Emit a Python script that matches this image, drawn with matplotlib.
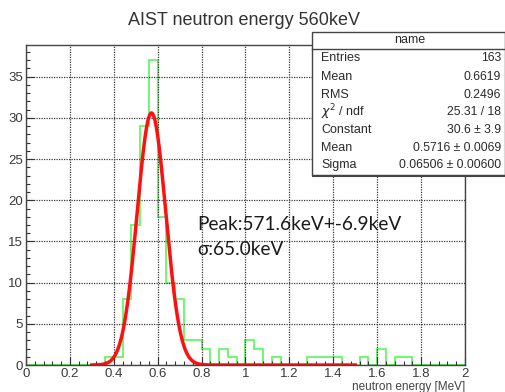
import numpy as np
import matplotlib
matplotlib.use("Agg")
import matplotlib.pyplot as plt
from matplotlib.patches import Rectangle

# histogram: 50 bins of 0.04 MeV between 0 and 2 MeV
bin_edges = np.linspace(0.0, 2.0, 51)
counts = [0, 0, 0, 0, 0, 0, 0, 0, 0, 1,
          1, 8, 17, 29, 37, 18, 10, 8, 3, 3,
          2, 0, 2, 1, 0, 3, 2, 0, 1, 0,
          0, 0, 1, 1, 1, 1, 0, 0, 1, 0,
          2, 0, 1, 1, 0, 0, 0, 0, 0, 0]

# gaussian fit results (shown in stats box)
fit_const = 30.6
fit_mean = 0.5716
fit_sigma = 0.06506
fit_range = (0.3, 1.5)

stat_labels = ["Entries", "Mean", "RMS", r"$\chi^2$ / ndf", "Constant", "Mean", "Sigma"]
stat_values = ["163", "0.6619", "0.2496", "25.31 / 18", "30.6 ± 3.9",
               "0.5716 ± 0.0069", "0.06506 ± 0.00600"]

W, H = 506, 392
fig = plt.figure(figsize=(W / 100, H / 100), dpi=100)


def fx(x):
    return x / W


def fy(y):
    return 1 - y / H


# axes frame in pixels: left 26, right 465, top 45, bottom 365
ax = fig.add_axes([fx(26), fy(365), fx(465) - fx(26), fy(45) - fy(365)])

ax.stairs(counts, bin_edges, color="#66f766", linewidth=1.3, baseline=0)

xf = np.linspace(fit_range[0], fit_range[1], 600)
yf = fit_const * np.exp(-0.5 * ((xf - fit_mean) / fit_sigma) ** 2)
ax.plot(xf, yf, color="#ff1010", linewidth=2.5)

ax.set_xlim(0, 2)
ax.set_ylim(0, 38.85)
ax.set_xticks(np.arange(0, 2.01, 0.2))
ax.set_xticklabels(["0", "0.2", "0.4", "0.6", "0.8", "1", "1.2", "1.4", "1.6", "1.8", "2"])
ax.set_xticks(np.arange(0, 2.001, 0.04), minor=True)
ax.set_yticks(np.arange(0, 36, 5))
ax.set_yticks(np.arange(0, 39, 1), minor=True)
ax.tick_params(which="both", direction="in", colors="#333333", labelsize=9.5,
               labelcolor="#3a3a3a")
ax.tick_params(which="major", length=6, width=0.8)
ax.tick_params(which="minor", length=3, width=0.8)
ax.tick_params(axis="y", pad=2)
ax.tick_params(axis="x", pad=2)
for lbl in ax.get_xticklabels() + ax.get_yticklabels():
    lbl.set_family("Liberation Sans")
ax.grid(True, which="major", color="#3a3a3a", linestyle=(0, (1, 1)), linewidth=0.9)
for s in ax.spines.values():
    s.set_color("#444444")
    s.set_linewidth(1.0)

fig.text(fx(465), fy(387), "neutron energy [MeV]", ha="right", va="center",
         fontsize=8.5, color="#444444", family="Liberation Sans")

fig.text(fx(244), fy(25), "AIST neutron energy 560keV", ha="center", va="baseline",
         fontsize=13, color="#333333", family="Liberation Sans")

fig.text(fx(197), fy(230), "Peak:571.6keV+-6.9keV", ha="left", va="baseline",
         fontsize=13.7, color="#1a1a1a", family="Lato")
fig.text(fx(197), fy(255), "σ:65.0keV", ha="left", va="baseline",
         fontsize=13.7, color="#1a1a1a", family="Lato")

# stats box
box = Rectangle((fx(312), fy(175)), fx(505.5) - fx(312), fy(32) - fy(175),
                transform=fig.transFigure, facecolor="white", edgecolor="#444444",
                linewidth=1.0, zorder=5)
fig.add_artist(box)
fig.add_artist(plt.Line2D([fx(312), fx(505.5)], [fy(49), fy(49)],
                          transform=fig.transFigure, color="#444444", linewidth=1.0, zorder=6))
fig.add_artist(plt.Line2D([fx(313), fx(506)], [fy(176), fy(176)],
                          transform=fig.transFigure, color="#444444", linewidth=1.5, zorder=6))
fig.text(fx(410), fy(40), "name", ha="center", va="center", fontsize=9,
         color="#2a2a2a", family="Liberation Sans", zorder=7)
row_y = [58, 77, 95, 112, 130, 148, 165]
for lab, val, y in zip(stat_labels, stat_values, row_y):
    fig.text(fx(321), fy(y), lab, ha="left", va="center", fontsize=9,
             color="#2a2a2a", family="Liberation Sans", zorder=7)
    fig.text(fx(501), fy(y), val, ha="right", va="center", fontsize=8.7,
             color="#2a2a2a", family="Liberation Sans", zorder=7)

fig.savefig("out.png", dpi=100)
